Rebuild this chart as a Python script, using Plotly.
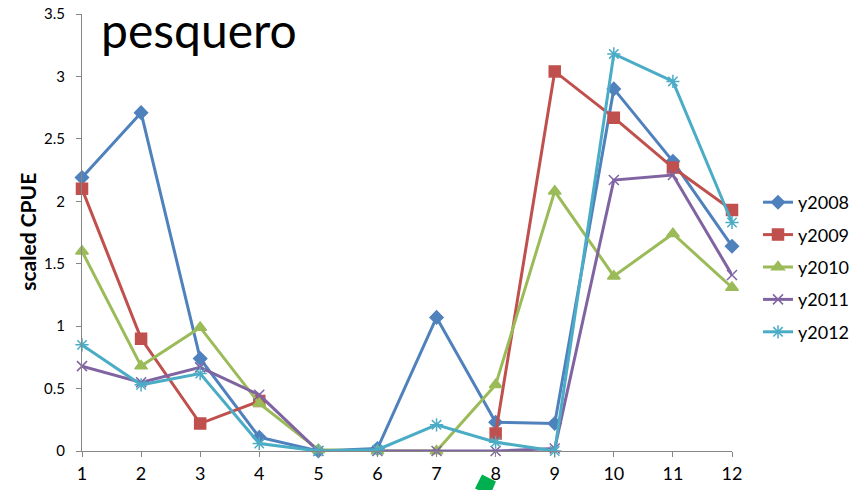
import plotly.graph_objects as go

# Monthly scaled CPUE per year
months = [1, 2, 3, 4, 5, 6, 7, 8, 9, 10, 11, 12]
y2008 = [2.19, 2.71, 0.74, 0.11, 0.00, 0.02, 1.07, 0.23, 0.22, 2.90, 2.32, 1.64]
y2009 = [2.10, 0.90, 0.22, 0.40, None, None, None, 0.14, 3.04, 2.67, 2.27, 1.93]
y2010 = [1.60, 0.68, 0.99, 0.38, 0.01, 0.00, 0.00, 0.53, 2.08, 1.40, 1.74, 1.31]
y2011 = [0.68, 0.55, 0.67, 0.45, 0.00, 0.00, 0.00, 0.00, 0.02, 2.17, 2.21, 1.41]
y2012 = [0.85, 0.53, 0.62, 0.06, 0.00, 0.01, 0.21, 0.07, 0.00, 3.18, 2.96, 1.83]

series_names = ["y2008", "y2009", "y2010", "y2011", "y2012"]
series_values = [y2008, y2009, y2010, y2011, y2012]
colors = ["#4F81BD", "#C0504D", "#9BBB59", "#8064A2", "#4BACC6"]
symbols = ["diamond", "square", "triangle-up", "x-thin-open", "asterisk-open"]
sizes = [10, 11, 11, 10, 11]

W, H = 855, 490
L, R, T, B = 82, 123, 14, 38.5
FONT = "Lato"

fig = go.Figure()
for i, (name, vals) in enumerate(zip(series_names, series_values)):
    fig.add_trace(go.Scatter(
        x=months, y=vals, name=name, mode="lines+markers",
        legendgroup=name,
        connectgaps=False,
        cliponaxis=False,
        line=dict(color=colors[i], width=3),
        marker=dict(symbol=symbols[i], size=sizes[i], color=colors[i],
                    line=dict(color=colors[i], width=1.5)),
    ))


def px_to_paper(px, py):
    pw, ph = W - L - R, H - T - B
    return (px - L) / pw, (H - B - py) / ph


# small green callout piece at the bottom edge
pts = [px_to_paper(*p) for p in [(482, 475), (496, 482), (490, 496), (475, 489)]]
path = "M " + " L ".join(f"{x:.4f},{y:.4f}" for x, y in pts) + " Z"

fig.update_layout(
    width=W, height=H,
    margin=dict(l=L, r=R, t=T, b=B, autoexpand=False),
    paper_bgcolor="white", plot_bgcolor="white",
    font=dict(family=FONT, color="#000000"),
    showlegend=True,
    legend=dict(xref="container", yref="container",
                x=758 / W, xanchor="left", y=(H - 267) / H, yanchor="middle",
                font=dict(size=18, family=FONT), tracegroupgap=6,
                bgcolor="rgba(0,0,0,0)"),
    xaxis=dict(range=[1, 12], tickmode="array", tickvals=months,
               ticktext=[str(m) for m in months],
               showgrid=False, zeroline=False, automargin=False,
               showline=True, linecolor="#868686", linewidth=1,
               ticks="outside", ticklen=5, tickcolor="#868686",
               tickfont=dict(size=18, family=FONT), ticklabelstandoff=1),
    yaxis=dict(range=[0, 3.5], tickmode="array",
               tickvals=[0, 0.5, 1, 1.5, 2, 2.5, 3, 3.5],
               ticktext=["0", "0.5", "1", "1.5", "2", "2.5", "3", "3.5"],
               showgrid=False, zeroline=False, automargin=False,
               showline=True, linecolor="#868686", linewidth=1,
               ticks="outside", ticklen=5, tickcolor="#868686",
               tickfont=dict(size=15, family=FONT), ticklabelstandoff=8),
    shapes=[dict(type="path", path=path, xref="paper", yref="paper",
                 fillcolor="#00B050", line=dict(width=0), layer="above")],
    annotations=[
        dict(text="pesquero", xref="paper", yref="paper",
             x=(99 - L) / (W - L - R), y=px_to_paper(0, 30)[1],
             xanchor="left", yanchor="middle", showarrow=False,
             font=dict(size=48, family=FONT, color="#000000")),
        dict(text="<b>scaled CPUE</b>", xref="paper", yref="paper",
             x=(28 - L) / (W - L - R), y=px_to_paper(0, 232)[1], textangle=-90,
             xanchor="center", yanchor="middle", showarrow=False,
             font=dict(size=21, family=FONT, color="#000000")),
    ],
)

fig.write_html("out.html")
